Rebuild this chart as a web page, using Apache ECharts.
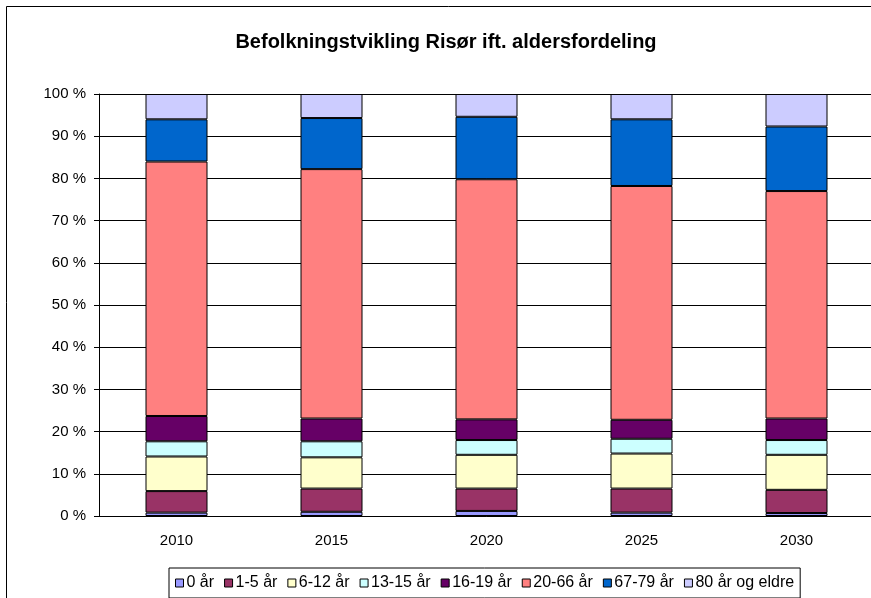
<!DOCTYPE html>
<html>
<head>
<meta charset="utf-8">
<script src="https://cdn.jsdelivr.net/npm/echarts@6/dist/echarts.min.js"></script>
<style>
  html, body { margin: 0; padding: 0; background: #fff; overflow: hidden; }
  #container { width: 890px; height: 598px; }
</style>
</head>
<body>
<div id="container"></div>
<script>
var years = ['2010', '2015', '2020', '2025', '2030'];

// andel (%) per aldersgruppe, lest av figuren
var ar0     = [0.8, 1.0, 1.2, 0.8, 0.7];
var ar1_5   = [5.1, 5.5, 5.3, 5.7, 5.5];
var ar6_12  = [8.2, 7.4, 8.0, 8.3, 8.3];
var ar13_15 = [3.6, 3.8, 3.5, 3.5, 3.5];
var ar16_19 = [6.0, 5.4, 4.9, 4.5, 5.1];
var ar20_66 = [60.3, 59.1, 56.9, 55.4, 53.9];
var ar67_79 = [10.0, 12.1, 14.8, 15.8, 15.3];
var ar80    = [6.0, 5.7, 5.4, 6.0, 7.7];

var groups = [
    { name: '0 år', data: ar0, color: '#9999FF' },
    { name: '1-5 år', data: ar1_5, color: '#993366' },
    { name: '6-12 år', data: ar6_12, color: '#FFFFCC' },
    { name: '13-15 år', data: ar13_15, color: '#CCFFFF' },
    { name: '16-19 år', data: ar16_19, color: '#660066' },
    { name: '20-66 år', data: ar20_66, color: '#FF8080' },
    { name: '67-79 år', data: ar67_79, color: '#0066CC' },
    { name: '80 år og eldre', data: ar80, color: '#CCCCFF' }
];

var myChart = echarts.init(document.getElementById('container'));

var series = groups.map(function (g) {
    return {
        name: g.name,
        type: 'bar',
        stack: 'total',
        barWidth: 62,
        data: g.data,
        itemStyle: { color: g.color, borderColor: '#000', borderWidth: 1 }
    };
});

var option = {
    animation: false,
    textStyle: { fontFamily: 'Liberation Sans, Arial, sans-serif' },
    graphic: [{
        type: 'rect',
        shape: { x: 6.5, y: 6.5, width: 900, height: 600 },
        style: { fill: 'none', stroke: '#000', lineWidth: 1 },
        silent: true
    }],
    title: {
        text: 'Befolkningstvikling Risør ift. aldersfordeling',
        left: 441,
        textAlign: 'center',
        top: 27,
        textStyle: { fontSize: 20, fontWeight: 'bold', color: '#000' }
    },
    legend: {
        left: 169,
        top: 568,
        padding: [7, 6, 7, 6],
        itemGap: 10,
        itemWidth: 8,
        itemHeight: 8,
        icon: 'rect',
        borderColor: '#000',
        borderWidth: 1,
        textStyle: { fontSize: 16, color: '#000', padding: [0, 0, 0, -2] },
        itemStyle: { borderColor: '#000', borderWidth: 1 },
        data: groups.map(function (g) { return g.name; })
    },
    grid: { left: 99, top: 94, width: 775, height: 422 },
    xAxis: {
        type: 'category',
        data: years,
        axisLine: { lineStyle: { color: '#000' } },
        axisTick: { length: 5, lineStyle: { color: '#000' } },
        axisLabel: { fontSize: 15, color: '#000', margin: 17 }
    },
    yAxis: {
        type: 'value',
        min: 0,
        max: 100,
        interval: 10,
        axisLine: { show: true, lineStyle: { color: '#000' } },
        axisTick: { show: true, length: 5, lineStyle: { color: '#000' } },
        axisLabel: { fontSize: 15, color: '#000', margin: 13, formatter: '{value} %' },
        splitLine: { lineStyle: { color: '#000', width: 1 } }
    },
    series: series
};

myChart.setOption(option);
</script>
</body>
</html>
